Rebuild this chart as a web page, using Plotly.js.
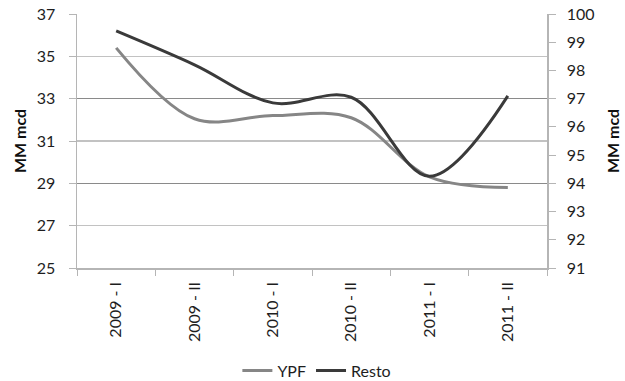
<!DOCTYPE html>
<html>
<head>
<meta charset="utf-8">
<script src="https://cdn.plot.ly/plotly-3.0.1.min.js"></script>
<style>html,body{margin:0;padding:0;background:#fff;}#chart{width:625px;height:381px;}</style>
</head>
<body>
<div id="chart"></div>
<script>
const categories = ["2009 - I", "2009 - II", "2010 - I", "2010 - II", "2011 - I", "2011 - II"];
const ypfValues = [35.4, 32.05, 32.2, 32.1, 29.3, 28.8];
const restoValues = [99.4, 98.2, 96.85, 97.05, 94.25, 97.1];
const leftTicks = [25, 27, 29, 31, 33, 35, 37];
const rightTicks = [91, 92, 93, 94, 95, 96, 97, 98, 99, 100];

const FONT = "Lato, 'Open Sans', sans-serif";
const TXT = "#1e1e1e";

const traces = [
  {x: categories, y: restoValues, yaxis: "y3", type: "scatter", mode: "lines",
   line: {width: 0, color: "rgba(0,0,0,0)"}, showlegend: false, hoverinfo: "skip"},
  {x: categories, y: ypfValues, name: "YPF", type: "scatter", mode: "lines",
   line: {color: "#868686", width: 3, shape: "spline", smoothing: 1}, yaxis: "y"},
  {x: categories, y: restoValues, name: "Resto", type: "scatter", mode: "lines",
   line: {color: "#3a3a3a", width: 3, shape: "spline", smoothing: 1}, yaxis: "y2"}
];

const layout = {
  width: 625, height: 381,
  margin: {l: 77, r: 78, t: 14, b: 113, autoexpand: false},
  paper_bgcolor: "#fff", plot_bgcolor: "#fff",
  font: {family: FONT, size: 16, color: TXT},
  showlegend: true,
  legend: {orientation: "h", xref: "container", yref: "container",
           x: 0.507, xanchor: "center", y: 0.027, yanchor: "middle",
           font: {family: FONT, size: 16, color: TXT}, traceorder: "normal"},
  xaxis: {
    type: "category", range: [-0.5, 5.5], automargin: false,
    tickangle: -90, showgrid: false, zeroline: false,
    showline: true, linecolor: "#b5b5b5", linewidth: 1.5,
    ticks: "outside", ticklen: 6, tickcolor: "#b5b5b5", tickson: "boundaries",
    ticklabelstandoff: 6,
    tickfont: {family: FONT, size: 16, color: TXT}
  },
  yaxis: {
    range: [25, 37], tickvals: leftTicks, ticktext: leftTicks.map(String), automargin: false,
    showgrid: true, gridcolor: "#c2c2c2", gridwidth: 1.5, zeroline: false,
    showline: true, linecolor: "#b5b5b5", linewidth: 1.5,
    ticks: "outside", ticklen: 7, tickcolor: "#b5b5b5", ticklabelstandoff: 10,
    tickfont: {family: FONT, size: 16, color: TXT},
    title: {text: "<b>MM mcd</b>", font: {family: FONT, size: 16, color: "#111"}, standoff: 6}
  },
  yaxis2: {
    range: [91, 100], tickvals: rightTicks, ticktext: rightTicks.map(String), automargin: false,
    overlaying: "y", side: "right", showgrid: false, zeroline: false,
    showline: true, linecolor: "#b5b5b5", linewidth: 1.5,
    ticks: "outside", ticklen: 7, tickcolor: "#b5b5b5", ticklabelstandoff: 8,
    tickfont: {family: FONT, size: 16, color: TXT},
    title: {text: "<b>MM mcd</b>", font: {family: FONT, size: 16, color: "#111"}, standoff: 14}
  },
  yaxis3: {
    range: [91, 100], tick0: 91, dtick: 3, overlaying: "y", side: "right", automargin: false,
    showgrid: true, gridcolor: "#8a8a8a", gridwidth: 1.5, zeroline: false,
    showline: false, showticklabels: false, ticks: ""
  }
};

Plotly.newPlot("chart", traces, layout, {staticPlot: true, displayModeBar: false});
</script>
</body>
</html>
